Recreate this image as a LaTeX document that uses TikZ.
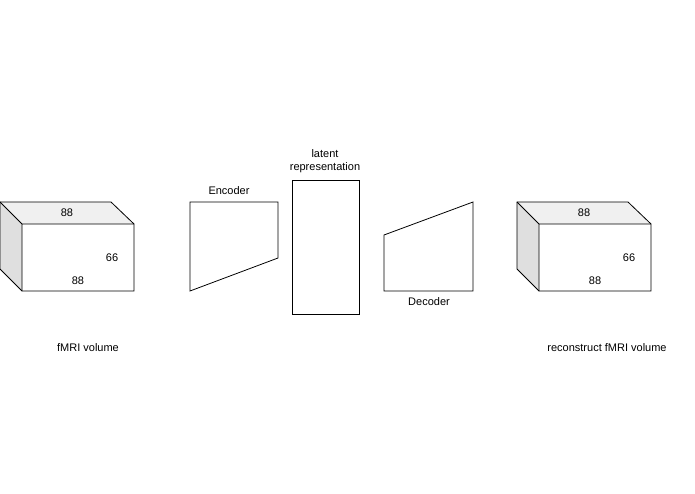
\documentclass[tikz,border=0pt]{standalone}
\usepackage{fontspec}
\setmainfont{Liberation Sans}
\begin{document}
\begin{tikzpicture}[x=1pt,y=-1pt,line width=0.8pt,
  lbl/.style={font=\fontsize{11}{13}\selectfont,inner sep=0pt,align=center},
  shp/.style={draw=black,line join=miter}]
\path[use as bounding box] (0,0) rectangle (695,494);
% left cube
\fill[gray!12] (0,202) -- (111,202) -- (134,224) -- (22,224) -- cycle;
\fill[gray!25] (0,202) -- (22,224) -- (22,291) -- (0,269) -- cycle;
\draw[shp] (0,202) -- (111,202) -- (134,224) -- (134,291) -- (22,291) -- (0,269) -- cycle;
\draw[shp] (0,202) -- (22,224) -- (134,224) (22,224) -- (22,291);
\node[lbl] (l1) at (67,213) {88};
\node[lbl] (l2) at (112,258) {66};
\node[lbl] (l3) at (78,281) {88};
\node[lbl] (l4) at (88,348) {fMRI volume};
% encoder
\draw[shp] (190,202) -- (278,202) -- (278,258) -- (190,291) -- cycle;
\node[lbl] (enc) at (229,191) {Encoder};
% latent
\draw[shp] (292,180) rectangle (359,314);
\node[lbl] (lat) at (325,161) {latent\\representation};
% decoder
\draw[shp] (384,235) -- (473,202) -- (473,291) -- (384,291) -- cycle;
\node[lbl] (dec) at (429,302) {Decoder};
% right cube
\fill[gray!12] (517,202) -- (628,202) -- (651,224) -- (539,224) -- cycle;
\fill[gray!25] (517,202) -- (539,224) -- (539,291) -- (517,269) -- cycle;
\draw[shp] (517,202) -- (628,202) -- (651,224) -- (651,291) -- (539,291) -- (517,269) -- cycle;
\draw[shp] (517,202) -- (539,224) -- (651,224) (539,224) -- (539,291);
\node[lbl] (r1) at (584,213) {88};
\node[lbl] (r2) at (629,258) {66};
\node[lbl] (r3) at (595,281) {88};
\node[lbl] (r4) at (607,348) {reconstruct fMRI volume};
\end{tikzpicture}
\end{document}
